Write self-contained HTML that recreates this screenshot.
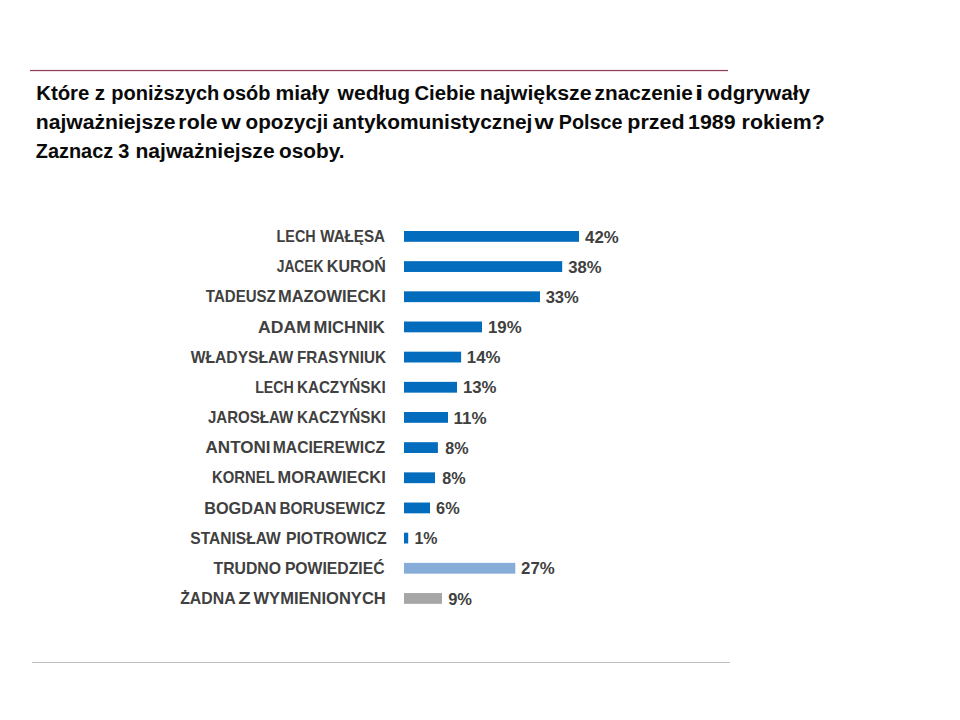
<!DOCTYPE html>
<html lang="pl"><head><meta charset="utf-8"><title>Wykres</title>
<style>
html,body{margin:0;padding:0;background:#fff;}
body{width:960px;height:720px;overflow:hidden;position:relative;}
svg{position:absolute;left:0;top:0;display:block;}
.t{font-family:"Liberation Sans",Arial,sans-serif;font-weight:bold;}
</style></head><body>
<svg width="960" height="720" viewBox="0 0 960 720">
<rect x="0" y="0" width="960" height="720" fill="#ffffff"/>
<rect x="30" y="69" width="698" height="1" fill="#fbeef2"/>
<rect x="30" y="71" width="698" height="1" fill="#f7dde5"/>
<rect x="30" y="70" width="698" height="1" fill="#874458"/>
<rect x="32" y="662" width="698" height="1" fill="#bfbfbf"/>
<g class="t" font-size="20" fill="#0a0a0a">
<text x="36.18" y="99.9" textLength="53.21" lengthAdjust="spacingAndGlyphs">Które</text>
<text x="94.77" y="99.9" textLength="10.35" lengthAdjust="spacingAndGlyphs">z</text>
<text x="111.2" y="99.9" textLength="108.1" lengthAdjust="spacingAndGlyphs">poniższych</text>
<text x="222.8" y="99.9" textLength="47.72" lengthAdjust="spacingAndGlyphs">osób</text>
<text x="275.53" y="99.9" textLength="53.91" lengthAdjust="spacingAndGlyphs">miały</text>
<text x="337.61" y="99.9" textLength="72.5" lengthAdjust="spacingAndGlyphs">według</text>
<text x="414.44" y="99.9" textLength="60.94" lengthAdjust="spacingAndGlyphs">Ciebie</text>
<text x="479.86" y="99.9" textLength="111.79" lengthAdjust="spacingAndGlyphs">największe</text>
<text x="594.57" y="99.9" textLength="98.29" lengthAdjust="spacingAndGlyphs">znaczenie</text>
<text x="694.95" y="99.9" textLength="8.33" lengthAdjust="spacingAndGlyphs">i</text>
<text x="707.37" y="99.9" textLength="102.64" lengthAdjust="spacingAndGlyphs">odgrywały</text>
<text x="35.73" y="128.6" textLength="139.88" lengthAdjust="spacingAndGlyphs">najważniejsze</text>
<text x="178.36" y="128.6" textLength="39.16" lengthAdjust="spacingAndGlyphs">role</text>
<text x="221.38" y="128.6" textLength="19.57" lengthAdjust="spacingAndGlyphs">w</text>
<text x="245.53" y="128.6" textLength="82.73" lengthAdjust="spacingAndGlyphs">opozycji</text>
<text x="332.58" y="128.6" textLength="199.85" lengthAdjust="spacingAndGlyphs">antykomunistycznej</text>
<text x="534.52" y="128.6" textLength="19.17" lengthAdjust="spacingAndGlyphs">w</text>
<text x="558.71" y="128.6" textLength="63.76" lengthAdjust="spacingAndGlyphs">Polsce</text>
<text x="627.36" y="128.6" textLength="57.18" lengthAdjust="spacingAndGlyphs">przed</text>
<text x="688.12" y="128.6" textLength="47.52" lengthAdjust="spacingAndGlyphs">1989</text>
<text x="741.61" y="128.6" textLength="83.07" lengthAdjust="spacingAndGlyphs">rokiem?</text>
<text x="35.75" y="157.5" textLength="77.45" lengthAdjust="spacingAndGlyphs">Zaznacz</text>
<text x="118.35" y="157.5" textLength="11.12" lengthAdjust="spacingAndGlyphs">3</text>
<text x="135.53" y="157.5" textLength="139.07" lengthAdjust="spacingAndGlyphs">najważniejsze</text>
<text x="279.02" y="157.5" textLength="65.5" lengthAdjust="spacingAndGlyphs">osoby.</text>
</g>
<text class="t" x="276.57" y="242.00" font-size="16.5" fill="#404040" textLength="39.1" lengthAdjust="spacingAndGlyphs">LECH</text>
<text class="t" x="320.2" y="242.00" font-size="16.5" fill="#404040" textLength="64.85" lengthAdjust="spacingAndGlyphs">WAŁĘSA</text>
<rect x="404" y="231.00" width="175" height="10.8" fill="#036cbd"/>
<text class="t" x="585.05" y="242.50" font-size="16" fill="#404040" textLength="33.6" lengthAdjust="spacingAndGlyphs">42%</text>
<text class="t" x="276.69" y="272.17" font-size="16.5" fill="#404040" textLength="46.87" lengthAdjust="spacingAndGlyphs">JACEK</text>
<text class="t" x="326.86" y="272.17" font-size="16.5" fill="#404040" textLength="58.91" lengthAdjust="spacingAndGlyphs">KUROŃ</text>
<rect x="404" y="261.17" width="158.2" height="10.8" fill="#036cbd"/>
<text class="t" x="568.37" y="272.67" font-size="16" fill="#404040" textLength="33.27" lengthAdjust="spacingAndGlyphs">38%</text>
<text class="t" x="205.85" y="302.34" font-size="16.5" fill="#404040" textLength="69.92" lengthAdjust="spacingAndGlyphs">TADEUSZ</text>
<text class="t" x="278.03" y="302.34" font-size="16.5" fill="#404040" textLength="107.73" lengthAdjust="spacingAndGlyphs">MAZOWIECKI</text>
<rect x="404" y="291.34" width="136" height="10.8" fill="#036cbd"/>
<text class="t" x="545.67" y="302.84" font-size="16" fill="#404040" textLength="33.17" lengthAdjust="spacingAndGlyphs">33%</text>
<text class="t" x="258.06" y="332.51" font-size="16.5" fill="#404040" textLength="52.78" lengthAdjust="spacingAndGlyphs">ADAM</text>
<text class="t" x="313.62" y="332.51" font-size="16.5" fill="#404040" textLength="71.21" lengthAdjust="spacingAndGlyphs">MICHNIK</text>
<rect x="404" y="321.51" width="78" height="10.8" fill="#036cbd"/>
<text class="t" x="487.99" y="333.01" font-size="16" fill="#404040" textLength="33.65" lengthAdjust="spacingAndGlyphs">19%</text>
<text class="t" x="190.7" y="362.68" font-size="16.5" fill="#404040" textLength="102.6" lengthAdjust="spacingAndGlyphs">WŁADYSŁAW</text>
<text class="t" x="296.91" y="362.68" font-size="16.5" fill="#404040" textLength="89.02" lengthAdjust="spacingAndGlyphs">FRASYNIUK</text>
<rect x="404" y="351.68" width="57.1" height="10.8" fill="#036cbd"/>
<text class="t" x="466.89" y="363.18" font-size="16" fill="#404040" textLength="33.65" lengthAdjust="spacingAndGlyphs">14%</text>
<text class="t" x="255.18" y="392.85" font-size="16.5" fill="#404040" textLength="38.68" lengthAdjust="spacingAndGlyphs">LECH</text>
<text class="t" x="296.91" y="392.85" font-size="16.5" fill="#404040" textLength="88.76" lengthAdjust="spacingAndGlyphs">KACZYŃSKI</text>
<rect x="404" y="381.85" width="53" height="10.8" fill="#036cbd"/>
<text class="t" x="462.99" y="393.35" font-size="16" fill="#404040" textLength="33.55" lengthAdjust="spacingAndGlyphs">13%</text>
<text class="t" x="207.97" y="423.02" font-size="16.5" fill="#404040" textLength="85.28" lengthAdjust="spacingAndGlyphs">JAROSŁAW</text>
<text class="t" x="296.91" y="423.02" font-size="16.5" fill="#404040" textLength="88.76" lengthAdjust="spacingAndGlyphs">KACZYŃSKI</text>
<rect x="404" y="412.02" width="44" height="10.8" fill="#036cbd"/>
<text class="t" x="453.48" y="423.52" font-size="16" fill="#404040" textLength="33.07" lengthAdjust="spacingAndGlyphs">11%</text>
<text class="t" x="205.57" y="453.19" font-size="16.5" fill="#404040" textLength="64.93" lengthAdjust="spacingAndGlyphs">ANTONI</text>
<text class="t" x="272.78" y="453.19" font-size="16.5" fill="#404040" textLength="112.33" lengthAdjust="spacingAndGlyphs">MACIEREWICZ</text>
<rect x="404" y="442.19" width="33.9" height="10.8" fill="#036cbd"/>
<text class="t" x="445.32" y="453.69" font-size="16" fill="#404040" textLength="23.29" lengthAdjust="spacingAndGlyphs">8%</text>
<text class="t" x="212.04" y="483.36" font-size="16.5" fill="#404040" textLength="62.67" lengthAdjust="spacingAndGlyphs">KORNEL</text>
<text class="t" x="277.54" y="483.36" font-size="16.5" fill="#404040" textLength="108.16" lengthAdjust="spacingAndGlyphs">MORAWIECKI</text>
<rect x="404" y="472.36" width="31" height="10.8" fill="#036cbd"/>
<text class="t" x="442.31" y="483.86" font-size="16" fill="#404040" textLength="23.4" lengthAdjust="spacingAndGlyphs">8%</text>
<text class="t" x="204.24" y="513.53" font-size="16.5" fill="#404040" textLength="72.23" lengthAdjust="spacingAndGlyphs">BOGDAN</text>
<text class="t" x="279.39" y="513.53" font-size="16.5" fill="#404040" textLength="105.74" lengthAdjust="spacingAndGlyphs">BORUSEWICZ</text>
<rect x="404" y="502.53" width="26" height="10.8" fill="#036cbd"/>
<text class="t" x="436.13" y="514.03" font-size="16" fill="#404040" textLength="23.58" lengthAdjust="spacingAndGlyphs">6%</text>
<text class="t" x="190.31" y="543.70" font-size="16.5" fill="#404040" textLength="90.48" lengthAdjust="spacingAndGlyphs">STANISŁAW</text>
<text class="t" x="285.97" y="543.70" font-size="16.5" fill="#404040" textLength="100.77" lengthAdjust="spacingAndGlyphs">PIOTROWICZ</text>
<rect x="404" y="532.70" width="4.2" height="10.8" fill="#036cbd"/>
<text class="t" x="414.44" y="544.20" font-size="16" fill="#404040" textLength="23.06" lengthAdjust="spacingAndGlyphs">1%</text>
<text class="t" x="213.54" y="573.87" font-size="16.5" fill="#404040" textLength="67.45" lengthAdjust="spacingAndGlyphs">TRUDNO</text>
<text class="t" x="284.88" y="573.87" font-size="16.5" fill="#404040" textLength="99.67" lengthAdjust="spacingAndGlyphs">POWIEDZIEĆ</text>
<rect x="404" y="562.87" width="111.3" height="10.8" fill="#88acd8"/>
<text class="t" x="521.1" y="574.37" font-size="16" fill="#404040" textLength="33.65" lengthAdjust="spacingAndGlyphs">27%</text>
<text class="t" x="180.2" y="604.04" font-size="16.5" fill="#404040" textLength="55.49" lengthAdjust="spacingAndGlyphs">ŻADNA</text>
<text class="t" x="238.29" y="604.04" font-size="16.5" fill="#404040" textLength="12.44" lengthAdjust="spacingAndGlyphs">Z</text>
<text class="t" x="253.5" y="604.04" font-size="16.5" fill="#404040" textLength="132.28" lengthAdjust="spacingAndGlyphs">WYMIENIONYCH</text>
<rect x="404" y="593.04" width="38" height="10.8" fill="#a6a6a6"/>
<text class="t" x="448.21" y="604.54" font-size="16" fill="#404040" textLength="23.81" lengthAdjust="spacingAndGlyphs">9%</text>
</svg>
</body></html>
